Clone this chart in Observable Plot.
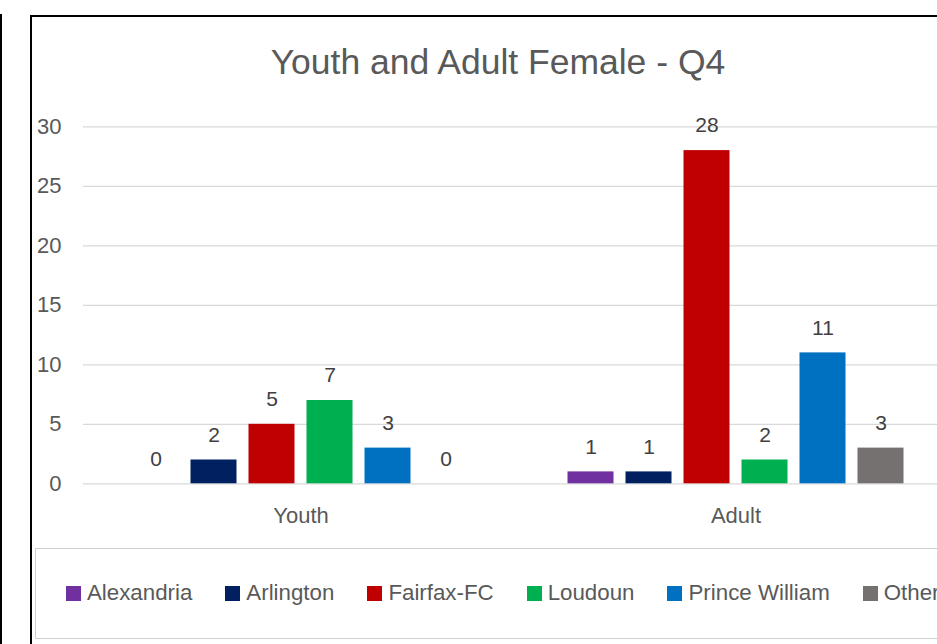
<!DOCTYPE html>
<html><head><meta charset="utf-8">
<script src="https://cdn.jsdelivr.net/npm/d3@7"></script>
<script src="https://cdn.jsdelivr.net/npm/@observablehq/plot@0.6"></script>
<style>
html,body{margin:0;padding:0;width:937px;height:644px;overflow:hidden;background:#fff;font-family:"Liberation Sans",Arial,sans-serif;}
#leftline{position:absolute;left:0;top:14px;width:2px;height:640px;background:#000;}
#frame{position:absolute;left:30px;top:15px;width:1000px;height:700px;border:2px solid #000;box-sizing:border-box;}
#title{position:absolute;left:30px;width:936px;top:42px;line-height:40px;text-align:center;font-size:35.5px;color:#595959;}
#chart{position:absolute;left:0;top:0;width:970px;}
#legendbox{position:absolute;left:35px;top:548px;width:1000px;height:91px;border:1.5px solid #d0d0d0;box-sizing:border-box;}
#legend{position:absolute;left:66px;top:579px;height:28px;display:flex;align-items:center;gap:33px;white-space:nowrap;font-size:22.3px;color:#595959;}
.item{display:flex;align-items:center;gap:6px;}
.sw{width:15px;height:15px;display:inline-block;}
</style></head>
<body>
<div id="leftline"></div>
<div id="frame"></div>
<div id="title">Youth and Adult Female - Q4</div>
<div id="chart"></div>
<div id="legendbox"></div>
<div id="legend"></div>
<script>
const groups = ["Youth", "Adult"];
const counties = ["Alexandria", "Arlington", "Fairfax-FC", "Loudoun", "Prince William", "Other"];
const youthValues = [0, 2, 5, 7, 3, 0];
const adultValues = [1, 1, 28, 2, 11, 3];
const colors = ["#7030A0", "#002060", "#C00000", "#00B050", "#0070C0", "#767171"];
const yTicks = [0, 5, 10, 15, 20, 25, 30];

const data = [
  ...counties.map((c, i) => ({group: "Youth", county: c, value: youthValues[i]})),
  ...counties.map((c, i) => ({group: "Adult", county: c, value: adultValues[i]}))
];

const plot = Plot.plot({
  width: 970, height: 540,
  marginLeft: 82.5, marginRight: 17.5, marginTop: 126.3, marginBottom: 56.7,
  style: {background: "transparent", fontFamily: "Liberation Sans, Arial, sans-serif", fontSize: "22px", color: "#595959", overflow: "visible", maxWidth: "none"},
  facet: {data, x: "group"},
  fx: {domain: groups, padding: 0, label: null, axis: "bottom", tickSize: 0, tickPadding: 24},
  x: {domain: counties, axis: null, paddingInner: 0.2, paddingOuter: 0.85},
  y: {domain: [0, 30], ticks: yTicks, tickSize: 0, tickPadding: 22, label: null},
  color: {domain: counties, range: colors},
  marks: [
    Plot.ruleY(yTicks, {stroke: "#d9d9d9", strokeWidth: 1.3}),
    Plot.barY(data, {x: "county", y: "value", fill: "county"}),
    Plot.text(data, {x: "county", y: "value", text: d => String(d.value), dy: -25, fill: "#404040", fontSize: 21})
  ]
});
plot.style.maxWidth = "none";
plot.style.width = "970px";
document.getElementById("chart").appendChild(plot);

const cs = plot.scale("color");
const leg = document.getElementById("legend");
cs.domain.forEach((name, i) => {
  const it = document.createElement("div");
  it.className = "item";
  const sw = document.createElement("span");
  sw.className = "sw";
  sw.style.background = cs.range[i];
  const tx = document.createElement("span");
  tx.textContent = name;
  it.appendChild(sw); it.appendChild(tx);
  leg.appendChild(it);
});
</script>
</body></html>
